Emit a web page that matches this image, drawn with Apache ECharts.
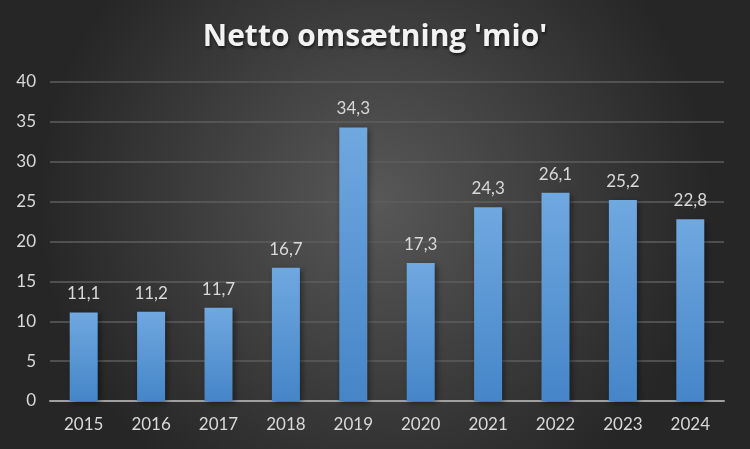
<!DOCTYPE html>
<html><head><meta charset="utf-8">
<script src="https://cdn.jsdelivr.net/npm/echarts@6/dist/echarts.min.js"></script>
<style>html,body{margin:0;padding:0;background:#333}#c{width:750px;height:449px}</style>
</head><body><div id="c"></div>
<script>
const categories = ['2015','2016','2017','2018','2019','2020','2021','2022','2023','2024'];
const values = [11.1, 11.2, 11.7, 16.7, 34.3, 17.3, 24.3, 26.1, 25.2, 22.8];
const titleText = "Netto omsætning 'mio'";

const chart = echarts.init(document.getElementById('c'), null, {renderer:'canvas'});
chart.setOption({
  backgroundColor: new echarts.graphic.RadialGradient(0.5, 0.45, 0.75, [
    {offset:0, color:'#585858'}, {offset:1, color:'#262626'}
  ]),
  animation: false,
  title: {
    text: titleText, left: 'center', top: 17,
    textStyle: {color:'#f2f2f2', fontSize: 30, fontWeight:'bold', fontFamily:'Open Sans',
      textShadowColor:'rgba(0,0,0,0.6)', textShadowBlur:3, textShadowOffsetY:2, textShadowOffsetX:1}
  },
  grid: {left: 50, right: 26, top: 82, bottom: 48, containLabel:false},
  xAxis: {
    type:'category', data: categories,
    axisLine:{lineStyle:{color:'#a0a0a0', width:2}},
    axisTick:{show:false},
    axisLabel:{color:'#d9d9d9', fontSize:17, fontFamily:'Lato', margin:15}
  },
  yAxis: {
    type:'value', min:0, max:40, interval:5,
    axisLine:{show:false}, axisTick:{show:false},
    axisLabel:{color:'#d9d9d9', fontSize:17, fontFamily:'Lato', margin:14},
    splitLine:{lineStyle:{color:'#5e5e5e', width:1.5}}
  },
  series: [{
    type:'bar', data: values, barWidth: 28,
    itemStyle:{
      color: new echarts.graphic.LinearGradient(0,0,0,1,[
        {offset:0, color:'#70a8e0'}, {offset:1, color:'#4585c8'}
      ]),
      shadowColor:'rgba(0,0,0,0.45)', shadowBlur:6, shadowOffsetX:2, shadowOffsetY:2
    },
    label:{show:true, position:'top', distance:10, color:'#d9d9d9', fontSize:17, fontFamily:'Lato',
      formatter: p => String(p.value).replace('.', ',')}
  }]
});
</script></body></html>
